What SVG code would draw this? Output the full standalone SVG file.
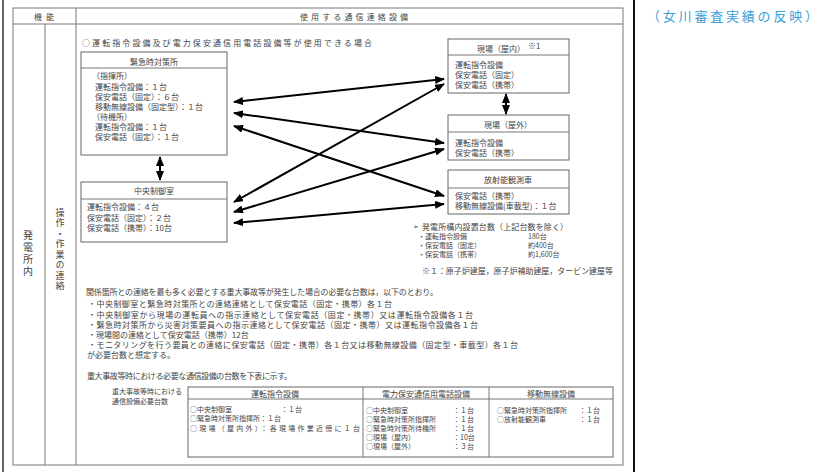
<svg xmlns="http://www.w3.org/2000/svg" width="829" height="472" viewBox="0 0 829 472">
<defs>
<style>
.t{font-family:"Noto Sans CJK JP","Noto Sans",sans-serif;font-size:8px;fill:#444;dominant-baseline:central}
.s{font-size:7px}
.tb{font-size:7px}
.c{text-anchor:middle}
.vt{font-family:"Noto Sans CJK JP","Noto Sans",sans-serif;fill:#444;writing-mode:vertical-rl;text-orientation:upright}
.box{fill:#fff;stroke:#666;stroke-width:1}
.ln{stroke:#777;stroke-width:1;fill:none}
.arr{stroke:#000;stroke-width:2;fill:none;marker-start:url(#ah);marker-end:url(#ah)}
.blue{font-family:"Noto Sans CJK JP","Noto Sans",sans-serif;font-size:13px;fill:#3aa0da;dominant-baseline:central}
</style>
<marker id="ah" markerUnits="userSpaceOnUse" markerWidth="10" markerHeight="8" refX="9" refY="4" orient="auto-start-reverse" viewBox="0 0 10 8">
<path d="M0,0 L10,4 L0,8 Z" fill="#000"/>
</marker>
</defs>
<rect width="829" height="472" fill="#fff"/>

<g id="frame">
<line x1="3" y1="0" x2="3" y2="472" stroke="#333" stroke-width="1.5"/>
<rect class="ln" x="13" y="8" width="610" height="457"/>
<line class="ln" x1="13" y1="24" x2="623" y2="24"/>
<line class="ln" x1="76" y1="8" x2="76" y2="465"/>
<line class="ln" x1="45" y1="24" x2="45" y2="465"/>
<line x1="634" y1="0" x2="634" y2="472" stroke="#111" stroke-width="2"/>
<text class="t c" x="44" y="16" textLength="20" font-size="8">機能</text>
<text class="t c" x="354" y="16" textLength="108" font-size="9">使用する通信連絡設備</text>
<text class="t" x="82" y="42" textLength="290" font-size="9">○運転指令設備及び電力保安通信用電話設備等が使用できる場合</text>
<text class="vt" x="28" y="230" font-size="10" letter-spacing="2">発電所内</text>
<text class="vt" x="60" y="208" font-size="9" letter-spacing="1.5">操作・作業の連絡</text>
<text class="blue" x="647" y="15" textLength="171">（女川審査実績の反映）</text>
</g>

<g id="node-eoc">
<rect class="box" x="81" y="52" width="146" height="103"/>
<line class="ln" x1="81" y1="68" x2="227" y2="68"/>
<text class="t c" x="154" y="61">緊急時対策所</text>
<text class="t" x="92" y="75">（指揮所）</text>
<text class="t" x="95" y="86">運転指令設備：１台</text>
<text class="t" x="95" y="96">保安電話（固定）：６台</text>
<text class="t" x="95" y="106">移動無線設備（固定型）：１台</text>
<text class="t" x="92" y="116">（待機所）</text>
<text class="t" x="95" y="126">運転指令設備：１台</text>
<text class="t" x="95" y="136">保安電話（固定）：１台</text>
</g>

<g id="node-mcr">
<rect class="box" x="81" y="182" width="146" height="60"/>
<line class="ln" x1="81" y1="199" x2="227" y2="199"/>
<text class="t c" x="154" y="190">中央制御室</text>
<text class="t" x="87" y="206">運転指令設備：４台</text>
<text class="t" x="87" y="217">保安電話（固定）：２台</text>
<text class="t" x="87" y="227">保安電話（携帯）：10台</text>
</g>

<g id="node-indoor">
<rect class="box" x="448" y="39" width="121" height="54"/>
<line class="ln" x1="448" y1="55" x2="569" y2="55"/>
<text class="t" x="477" y="48">現場（屋内）</text>
<text class="t" x="528" y="45" font-size="6">※1</text>
<text class="t" x="455" y="64">運転指令設備</text>
<text class="t" x="455" y="74">保安電話（固定）</text>
<text class="t" x="455" y="84">保安電話（携帯）</text>
</g>

<g id="node-outdoor">
<rect class="box" x="448" y="115" width="121" height="45"/>
<line class="ln" x1="448" y1="132" x2="569" y2="132"/>
<text class="t c" x="508" y="124">現場（屋外）</text>
<text class="t" x="455" y="142">運転指令設備</text>
<text class="t" x="455" y="152">保安電話（携帯）</text>
</g>

<g id="node-car">
<rect class="box" x="448" y="170" width="121" height="44"/>
<line class="ln" x1="448" y1="188" x2="569" y2="188"/>
<text class="t c" x="508" y="179">放射能観測車</text>
<text class="t" x="455" y="195">保安電話（携帯）</text>
<text class="t" x="455" y="205">移動無線設備(車載型)：１台</text>
</g>

<g id="connectors">
<line class="arr" x1="234" y1="102" x2="444" y2="79"/>
<line class="arr" x1="234" y1="113" x2="444" y2="143"/>
<line class="arr" x1="234" y1="126" x2="444" y2="196"/>
<line class="arr" x1="234" y1="202" x2="444" y2="84"/>
<line class="arr" x1="234" y1="212" x2="444" y2="149"/>
<line class="arr" x1="234" y1="223" x2="444" y2="204"/>
<line class="arr" x1="160" y1="157" x2="160" y2="180"/>
<line class="arr" x1="506" y1="94" x2="506" y2="114"/>
</g>

<g id="installed">
<text class="t s" x="413" y="226">➢</text>
<text class="t" x="422" y="226" textLength="146">発電所構内設置台数（上記台数を除く）</text>
<text class="t s" x="418" y="236">・運転指令設備</text>
<text class="t s" x="528" y="236">180台</text>
<text class="t s" x="418" y="245">・保安電話（固定）</text>
<text class="t s" x="528" y="245">約400台</text>
<text class="t s" x="418" y="254">・保安電話（携帯）</text>
<text class="t s" x="528" y="254">約1,600台</text>
<text class="t" x="422" y="270" textLength="191">※１：原子炉建屋，原子炉補助建屋，タービン建屋等</text>
</g>

<g id="notes">
<text class="t" x="86" y="291" textLength="352">関係箇所との連絡を最も多く必要とする重大事故等が発生した場合の必要な台数は，以下のとおり。</text>
<text class="t" x="88" y="303" textLength="304">・中央制御室と緊急時対策所との連絡連絡として保安電話（固定・携帯）各１台</text>
<text class="t" x="88" y="314" textLength="385">・中央制御室から現場の運転員への指示連絡として保安電話（固定・携帯）又は運転指令設備各１台</text>
<text class="t" x="88" y="324" textLength="390">・緊急時対策所から災害対策要員への指示連絡として保安電話（固定・携帯）又は運転指令設備各１台</text>
<text class="t" x="88" y="334">・現場間の連絡として保安電話（携帯）12台</text>
<text class="t" x="88" y="344" textLength="430">・モニタリングを行う要員との連絡に保安電話（固定・携帯）各１台又は移動無線設備（固定型・車載型）各１台</text>
<text class="t" x="87" y="354">が必要台数と想定する。</text>
<text class="t" x="87" y="375" textLength="205">重大事故等時における必要な通信設備の台数を下表に示す。</text>
<text class="t s" x="112" y="391">重大事故等時における</text>
<text class="t s" x="112" y="401">通信設備必要台数</text>
</g>

<g id="table">
<rect class="box" x="188" y="387" width="425" height="70"/>
<line class="ln" x1="188" y1="399" x2="613" y2="399"/>
<line class="ln" x1="363" y1="387" x2="363" y2="457"/>
<line class="ln" x1="489" y1="387" x2="489" y2="457"/>
<text class="t c" x="275" y="393">運転指令設備</text>
<text class="t c" x="426" y="393">電力保安通信用電話設備</text>
<text class="t c" x="551" y="393">移動無線設備</text>
<text class="t tb" x="190" y="409">○中央制御室</text>
<text class="t tb" x="281" y="409">：１台</text>
<text class="t tb" x="190" y="418">○緊急時対策所指揮所：１台</text>
<text class="t tb" x="190" y="428" textLength="170">○現場（屋内外）：各現場作業近傍に１台</text>
<text class="t tb" x="366" y="410">○中央制御室</text>
<text class="t tb" x="453" y="410">：１台</text>
<text class="t tb" x="366" y="419">○緊急時対策所指揮所</text>
<text class="t tb" x="453" y="419">：１台</text>
<text class="t tb" x="366" y="428">○緊急時対策所待機所</text>
<text class="t tb" x="453" y="428">：１台</text>
<text class="t tb" x="366" y="437">○現場（屋内）</text>
<text class="t tb" x="453" y="437">：10台</text>
<text class="t tb" x="366" y="446">○現場（屋外）</text>
<text class="t tb" x="453" y="446">：３台</text>
<text class="t tb" x="497" y="410">○緊急時対策所指揮所</text>
<text class="t tb" x="579" y="410">：１台</text>
<text class="t tb" x="497" y="419">○放射能観測車</text>
<text class="t tb" x="579" y="419">：１台</text>
</g>
</svg>
